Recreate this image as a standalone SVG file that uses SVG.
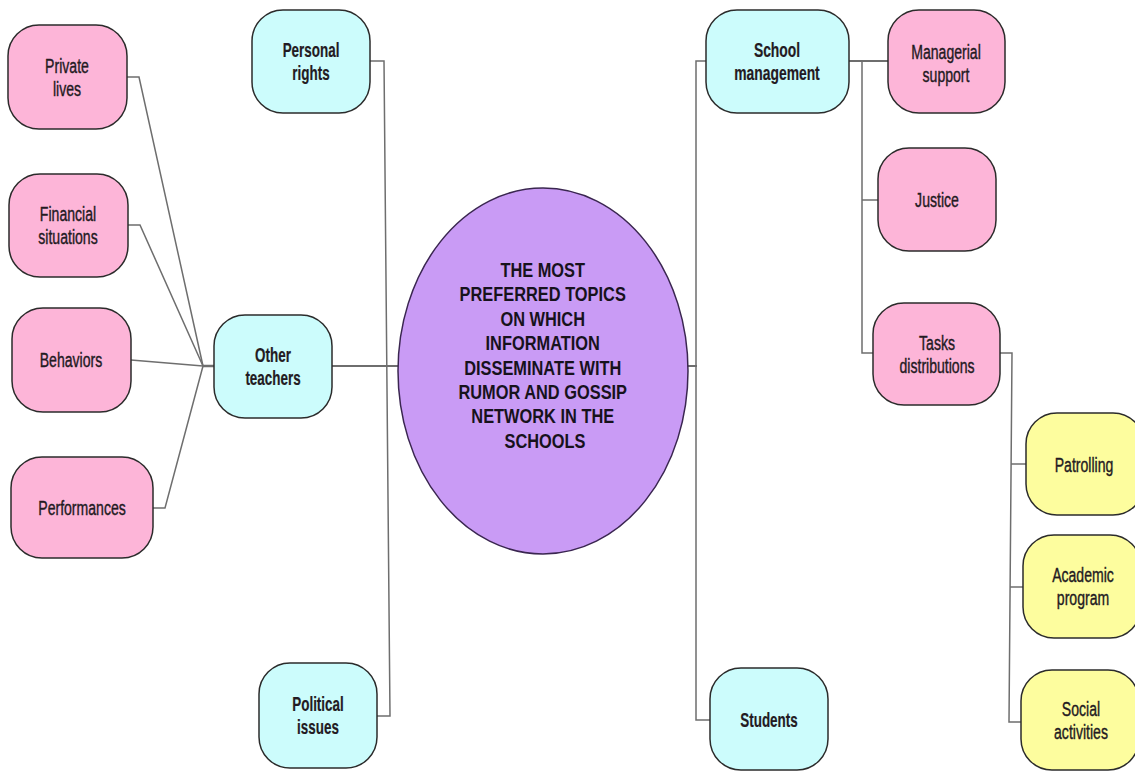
<svg xmlns="http://www.w3.org/2000/svg" width="1135" height="771" viewBox="0 0 1135 771">
  <style>
    .box { stroke: #2b2b2b; stroke-width: 1.5; }
    .pink { fill: #FDB5D8; }
    .cyan { fill: #CCFCFC; }
    .yellow { fill: #FDFD9E; }
    .hub { fill: #C99BF5; stroke: #3a2650; stroke-width: 1.5; }
    .lbl { font-family: "Liberation Sans", Arial, sans-serif; font-size: 21px; fill: #231a22; stroke: #231a22; stroke-width: 0.4; text-anchor: middle; }
    .b { font-weight: bold; stroke-width: 0.2; }
    .title { font-family: "Liberation Sans", Arial, sans-serif; font-size: 21px; font-weight: bold; fill: #17121c; text-anchor: middle; }
    .conn { fill: none; stroke: #6e6e6e; stroke-width: 1.5; }
  </style>
  <rect width="1135" height="771" fill="#ffffff"/>

  <!-- connectors -->
  <g id="connectors" class="conn">
    <path d="M127,77 H139 L203,366"/>
    <path d="M128,225 H140 L203,366"/>
    <path d="M131,360 L203,366"/>
    <path d="M153,508 H165 L203,366"/>
    <path d="M203,366 H214" stroke-width="2.5"/>
    <path d="M332,366 H398" stroke-width="2"/>
    <path d="M370,61 H384 L390,716 H377"/>
    <path d="M687,366 H697" stroke-width="2"/>
    <path d="M706,61 H696 V720 H710"/>
    <path d="M849,61 H888" stroke-width="2"/>
    <path d="M849,61 H862 V353 H873"/>
    <path d="M862,200 H878"/>
    <path d="M1000,353 H1012 L1009,722 H1021"/>
    <path d="M1011,464 H1026"/>
    <path d="M1010,587 H1023"/>
  </g>

  <!-- central topic -->
  <g id="hub">
    <ellipse class="hub" cx="543" cy="371" rx="145" ry="183"/>
    <text class="title" transform="translate(545,277) scale(0.78,1)">
      <tspan x="0" y="0">THE MOST</tspan>
      <tspan x="0" dy="24.4">PREFERRED TOPICS</tspan>
      <tspan x="0" dy="24.4">ON WHICH</tspan>
      <tspan x="0" dy="24.4">INFORMATION</tspan>
      <tspan x="0" dy="24.4">DISSEMINATE WITH</tspan>
      <tspan x="0" dy="24.4">RUMOR AND GOSSIP</tspan>
      <tspan x="0" dy="24.4">NETWORK IN THE</tspan>
      <tspan x="0" dy="24.4">SCHOOLS</tspan>
    </text>
  </g>

  <!-- left branch: other teachers -->
  <g id="private-lives">
    <rect class="box pink" x="8" y="25" width="119" height="104" rx="31"/>
    <text class="lbl" transform="translate(67,73) scale(0.67,1)"><tspan x="0" y="0">Private</tspan><tspan x="0" dy="23">lives</tspan></text>
  </g>
  <g id="financial-situations">
    <rect class="box pink" x="9" y="174" width="119" height="103" rx="31"/>
    <text class="lbl" transform="translate(68,221) scale(0.67,1)"><tspan x="0" y="0">Financial</tspan><tspan x="0" dy="23">situations</tspan></text>
  </g>
  <g id="behaviors">
    <rect class="box pink" x="12" y="308" width="119" height="104" rx="31"/>
    <text class="lbl" transform="translate(71,367) scale(0.67,1)">Behaviors</text>
  </g>
  <g id="performances">
    <rect class="box pink" x="11" y="457" width="142" height="101" rx="31"/>
    <text class="lbl" transform="translate(82,515) scale(0.67,1)">Performances</text>
  </g>
  <g id="personal-rights">
    <rect class="box cyan" x="252" y="10" width="118" height="103" rx="31"/>
    <text class="lbl b" transform="translate(311,57) scale(0.64,1)"><tspan x="0" y="0">Personal</tspan><tspan x="0" dy="23">rights</tspan></text>
  </g>
  <g id="other-teachers">
    <rect class="box cyan" x="214" y="315" width="118" height="103" rx="31"/>
    <text class="lbl b" transform="translate(273,362) scale(0.64,1)"><tspan x="0" y="0">Other</tspan><tspan x="0" dy="23">teachers</tspan></text>
  </g>
  <g id="political-issues">
    <rect class="box cyan" x="259" y="663" width="118" height="105" rx="31"/>
    <text class="lbl b" transform="translate(318,711) scale(0.64,1)"><tspan x="0" y="0">Political</tspan><tspan x="0" dy="23">issues</tspan></text>
  </g>

  <!-- right branch: school management and students -->
  <g id="school-management">
    <rect class="box cyan" x="706" y="10" width="143" height="103" rx="31"/>
    <text class="lbl b" transform="translate(777,57) scale(0.66,1)"><tspan x="0" y="0">School</tspan><tspan x="0" dy="23">management</tspan></text>
  </g>
  <g id="managerial-support">
    <rect class="box pink" x="888" y="10" width="117" height="103" rx="31"/>
    <text class="lbl" transform="translate(946,59) scale(0.67,1)"><tspan x="0" y="0">Managerial</tspan><tspan x="0" dy="23">support</tspan></text>
  </g>
  <g id="justice">
    <rect class="box pink" x="878" y="148" width="118" height="103" rx="31"/>
    <text class="lbl" transform="translate(937,207) scale(0.67,1)">Justice</text>
  </g>
  <g id="tasks-distributions">
    <rect class="box pink" x="873" y="303" width="127" height="102" rx="31"/>
    <text class="lbl" transform="translate(937,350) scale(0.67,1)"><tspan x="0" y="0">Tasks</tspan><tspan x="0" dy="23">distributions</tspan></text>
  </g>
  <g id="patrolling">
    <rect class="box yellow" x="1026" y="413" width="118" height="102" rx="31"/>
    <text class="lbl" transform="translate(1084,472) scale(0.67,1)">Patrolling</text>
  </g>
  <g id="academic-program">
    <rect class="box yellow" x="1023" y="535" width="118" height="103" rx="31"/>
    <text class="lbl" transform="translate(1083,582) scale(0.67,1)"><tspan x="0" y="0">Academic</tspan><tspan x="0" dy="23">program</tspan></text>
  </g>
  <g id="social-activities">
    <rect class="box yellow" x="1021" y="670" width="118" height="100" rx="31"/>
    <text class="lbl" transform="translate(1081,716) scale(0.67,1)"><tspan x="0" y="0">Social</tspan><tspan x="0" dy="23">activities</tspan></text>
  </g>
  <g id="students">
    <rect class="box cyan" x="710" y="668" width="118" height="102" rx="31"/>
    <text class="lbl b" transform="translate(769,727) scale(0.64,1)">Students</text>
  </g>
</svg>
